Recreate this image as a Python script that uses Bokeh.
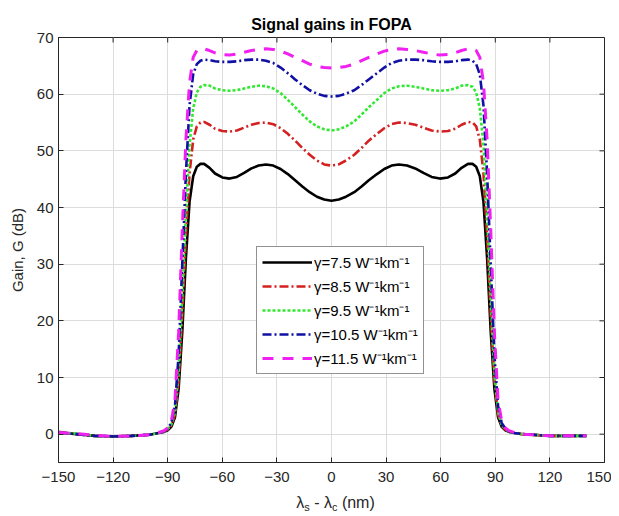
import math
from bokeh.plotting import figure
from bokeh.models import Range1d, Legend, LegendItem, FixedTicker, Div
from bokeh.layouts import column
from bokeh.embed import file_html
from bokeh.resources import INLINE

# ---------------- data ----------------
x_nm = [-150, -140, -130, -120, -110, -100, -95, -92, -90, -88, -86, -84, -82, -80,
        -78, -76, -74, -72, -70, -67, -64, -60, -56, -52, -48, -44, -40, -36, -32,
        -28, -24, -20, -16, -12, -8, -4, 0,
        4, 8, 12.5, 16.5, 20.5, 25, 29, 33, 37, 41.5, 46, 50.5, 55, 59.5, 64, 68,
        71.5, 75, 77.5, 79.5, 81.5, 83.5, 85.5, 87.5, 89.5, 91.5, 93.5, 95.5, 97.5,
        100.5, 105, 110, 120, 130, 140]

gain_75 = [0.3, 0.0, -0.3, -0.4, -0.3, -0.1, 0.2, 0.4, 0.7, 1.3, 3.0, 8.0, 18.0, 31.0,
           41.0, 45.5, 47.2, 47.7, 47.7, 47.0, 46.0, 45.3, 45.1, 45.4, 46.1, 46.9, 47.4,
           47.6, 47.4, 46.8, 45.9, 44.8, 43.7, 42.7, 41.9, 41.4, 41.2,
           41.4, 41.9, 42.7, 43.7, 44.8, 45.9, 46.8, 47.4, 47.6, 47.4, 46.9, 46.1, 45.4,
           45.1, 45.3, 46.0, 47.0, 47.7, 47.7, 47.2, 45.5, 41.0, 31.0, 18.0, 8.0, 3.0,
           1.3, 0.7, 0.4, 0.2, 0.0, -0.1, -0.3, -0.3, -0.3]

gain_85 = [0.4, 0.0, -0.3, -0.4, -0.3, -0.1, 0.2, 0.5, 0.8, 1.5, 3.5, 9.5, 21.0, 35.0,
           46.0, 52.0, 54.3, 55.0, 55.1, 54.6, 53.9, 53.5, 53.4, 53.6, 54.1, 54.6, 54.9,
           55.0, 54.7, 54.0, 53.0, 51.8, 50.5, 49.3, 48.3, 47.6, 47.4,
           47.6, 48.3, 49.3, 50.5, 51.8, 53.0, 54.0, 54.7, 55.0, 54.9, 54.6, 54.1, 53.6,
           53.4, 53.5, 53.9, 54.6, 55.1, 55.0, 54.3, 52.0, 46.0, 35.0, 21.0, 9.5, 3.5,
           1.5, 0.8, 0.5, 0.2, 0.0, -0.1, -0.3, -0.3, -0.3]

gain_95 = [0.3, 0.1, -0.3, -0.4, -0.3, -0.1, 0.2, 0.5, 0.9, 1.7, 4.0, 11.0, 24.0, 39.0,
           51.0, 57.5, 60.3, 61.3, 61.6, 61.5, 61.0, 60.7, 60.6, 60.7, 61.0, 61.3, 61.5,
           61.4, 61.0, 60.2, 59.0, 57.7, 56.4, 55.2, 54.3, 53.8, 53.6,
           53.8, 54.3, 55.2, 56.4, 57.7, 59.0, 60.2, 61.0, 61.4, 61.5, 61.3, 61.0, 60.7,
           60.6, 60.7, 61.0, 61.5, 61.6, 61.3, 60.3, 57.5, 51.0, 39.0, 24.0, 11.0, 4.0,
           1.7, 0.9, 0.5, 0.2, 0.0, -0.1, -0.3, -0.3, -0.3]

gain_105 = [0.3, 0.0, -0.3, -0.4, -0.3, -0.1, 0.2, 0.5, 1.0, 2.0, 5.0, 14.0, 30.0, 46.0,
            58.0, 63.5, 65.3, 65.9, 66.1, 66.0, 65.8, 65.7, 65.7, 65.8, 66.0, 66.1, 66.1,
            65.9, 65.5, 64.7, 63.7, 62.6, 61.6, 60.7, 60.1, 59.7, 59.6,
            59.7, 60.1, 60.7, 61.6, 62.6, 63.7, 64.7, 65.5, 65.9, 66.1, 66.1, 66.0, 65.8,
            65.7, 65.7, 65.8, 66.0, 66.1, 65.9, 65.3, 63.5, 58.0, 46.0, 30.0, 14.0, 5.0,
            2.0, 1.0, 0.5, 0.2, 0.0, -0.1, -0.3, -0.3, -0.3]

gain_115 = [0.3, 0.1, -0.2, -0.4, -0.3, -0.1, 0.3, 0.6, 1.1, 2.3, 6.0, 18.0, 36.0, 52.0,
            62.0, 66.5, 67.7, 68.0, 68.0, 67.7, 67.3, 67.0, 66.9, 67.1, 67.4, 67.7, 67.9,
            68.0, 67.9, 67.6, 67.1, 66.5, 65.9, 65.3, 64.9, 64.7, 64.6,
            64.7, 64.9, 65.3, 65.9, 66.5, 67.1, 67.6, 67.9, 68.0, 67.9, 67.7, 67.4, 67.1,
            66.9, 67.0, 67.3, 67.7, 68.0, 68.0, 67.7, 66.5, 62.0, 52.0, 36.0, 18.0, 6.0,
            2.3, 1.1, 0.6, 0.3, 0.0, -0.1, -0.3, -0.3, -0.3]

series_labels = ["\u03b3=7.5 W\u207b\u00b9km\u207b\u00b9",
                 "\u03b3=8.5 W\u207b\u00b9km\u207b\u00b9",
                 "\u03b3=9.5 W\u207b\u00b9km\u207b\u00b9",
                 "\u03b3=10.5 W\u207b\u00b9km\u207b\u00b9",
                 "\u03b3=11.5 W\u207b\u00b9km\u207b\u00b9"]
x_ticks = [-150, -120, -90, -60, -30, 0, 30, 60, 90, 120, 150]
y_ticks = [0, 10, 20, 30, 40, 50, 60, 70]
x_lim = (-150, 150)
y_lim = (-5, 70)

# ---------------- styles ----------------
colors = ["#000000", "#d42020", "#33e833", "#1010a4", "#f020f0"]
dashes = ["solid", "9 3 2 3", "3 2", "9 3 2 3", "11 9"]
widths = [2.6, 2.6, 2.6, 2.6, 3.0]

FONT = "Liberation Sans"
DARK = "#262626"

p = figure(width=611, height=488, x_range=Range1d(*x_lim), y_range=Range1d(*y_lim),
           output_backend="svg", toolbar_location=None,
           min_border_left=58, min_border_right=7, min_border_top=37, min_border_bottom=26)
p.background_fill_color = "white"
p.border_fill_color = "white"
p.outline_line_color = DARK
p.outline_line_width = 1

p.title.text = "Signal gains in FOPA"
p.title.align = "center"
p.title.text_font = FONT
p.title.text_font_size = "16px"
p.title.text_font_style = "bold"
p.title.text_color = "#000000"

for ax in (p.xaxis[0], p.yaxis[0]):
    ax.major_label_text_font = FONT
    ax.major_label_text_font_size = "15px"
    ax.major_label_text_color = DARK
    ax.axis_line_color = DARK
    ax.major_tick_line_color = DARK
    ax.major_tick_in = 5
    ax.major_tick_out = 0
    ax.minor_tick_line_color = None

p.xaxis[0].ticker = FixedTicker(ticks=x_ticks)
p.yaxis[0].ticker = FixedTicker(ticks=y_ticks)
p.xaxis[0].major_label_standoff = 9
p.yaxis[0].major_label_standoff = 5
p.yaxis[0].axis_label = "Gain, G (dB)"
p.yaxis[0].axis_label_text_font = FONT
p.yaxis[0].axis_label_text_font_size = "15px"
p.yaxis[0].axis_label_text_font_style = "normal"
p.yaxis[0].axis_label_text_color = DARK
p.yaxis[0].axis_label_standoff = 8

p.xgrid.ticker = FixedTicker(ticks=x_ticks)
p.ygrid.ticker = FixedTicker(ticks=y_ticks)
p.grid.grid_line_color = "#dcdcdc"
p.grid.grid_line_width = 1

# inward tick marks on the top and right edges of the box
p.ray(x=x_ticks, y=[y_lim[1]] * len(x_ticks), length=5, length_units="screen",
      angle=-math.pi / 2, line_color=DARK, line_width=1)
p.ray(x=[x_lim[1]] * len(y_ticks), y=y_ticks, length=5, length_units="screen",
      angle=math.pi, line_color=DARK, line_width=1)

gains = [gain_75, gain_85, gain_95, gain_105, gain_115]
items = []
for g, c, d, w, lab in zip(gains, colors, dashes, widths, series_labels):
    r = p.line(x_nm, g, line_color=c, line_dash=d, line_width=w)
    items.append(LegendItem(label=lab, renderers=[r]))

legend = Legend(items=items, location=(198, 88), orientation="vertical")
legend.label_text_font = FONT
legend.label_text_font_size = "15px"
legend.label_text_color = "#000000"
legend.glyph_width = 50
legend.glyph_height = 20
legend.label_height = 20
legend.label_standoff = 2
legend.spacing = 4
legend.padding = 5
legend.margin = 0
legend.border_line_color = DARK
legend.border_line_width = 1
legend.background_fill_color = "white"
legend.background_fill_alpha = 1
p.add_layout(legend, "center")

# x-axis label with real subscripts
sub = '<sub style="font-size:11px; line-height:0; vertical-align:-3px">'
xlabel = Div(text="&lambda;" + sub + "s</sub> - &lambda;" + sub + "c</sub> (nm)",
             width=611, height=26,
             styles={"font-family": "Liberation Sans", "font-size": "16px", "color": DARK,
                     "text-align": "center", "padding-left": "50px",
                     "box-sizing": "border-box", "line-height": "20px",
                     "white-space": "nowrap"})

layout = column(p, xlabel, spacing=0)
open("out.html", "w").write(file_html(layout, INLINE))
